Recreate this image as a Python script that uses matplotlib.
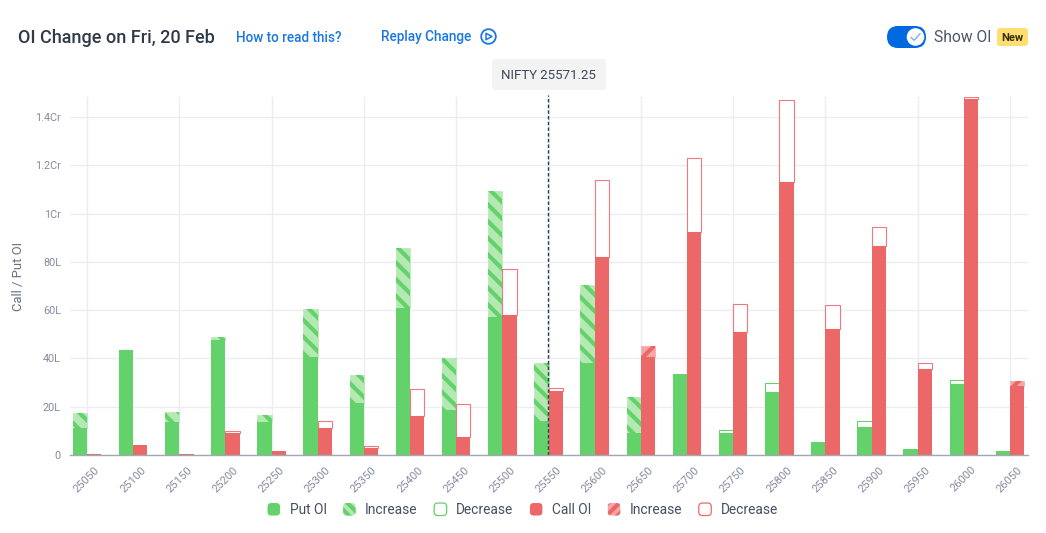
import matplotlib
matplotlib.use("Agg")
import matplotlib.pyplot as plt
from matplotlib.patches import FancyBboxPatch, Circle, Patch
from matplotlib.legend_handler import HandlerPatch
from matplotlib.ticker import FixedLocator, FixedFormatter

plt.rcParams['font.family'] = ['Roboto', 'DejaVu Sans']
plt.rcParams['hatch.linewidth'] = 3.0

strikes = [25050, 25100, 25150, 25200, 25250, 25300, 25350, 25400, 25450, 25500, 25550,
           25600, 25650, 25700, 25750, 25800, 25850, 25900, 25950, 26000, 26050]
# values in lakh: solid OI part, then the size of the increase or decrease block on top
put_oi = [11.2, 43.5, 13.8, 47.5, 13.5, 40.5, 21.5, 61, 18.5, 57, 14.2,
          38.2, 9.2, 33.5, 9, 26, 5.5, 11.5, 2.5, 29.5, 1.5]
put_increase = [6.2, 0, 4.2, 1.5, 3.2, 20, 11.5, 24.8, 21.8, 52.5, 24,
                32.3, 14.8, 0, 0, 0, 0, 0, 0, 0, 0]
put_decrease = [0, 0, 0, 0, 0, 0, 0, 0, 0, 0, 0,
                0, 0, 0, 1.5, 4, 0, 2.5, 0, 1.5, 0]
call_oi = [0.5, 4, 0.5, 9.2, 1.5, 11, 2.8, 16, 7.5, 58, 26.5,
           82, 40.7, 92.5, 51, 113, 52, 86.5, 35.5, 147.3, 28.5]
call_increase = [0, 0, 0, 0, 0, 0, 0, 0, 0, 0, 0,
                 0, 4.3, 0, 0, 0, 0, 0, 0, 0, 2]
call_decrease = [0, 0, 0, 0.8, 0, 3, 1, 11.5, 13.5, 19, 1.3,
                 32, 0, 30.5, 11.5, 34, 10, 8, 2.5, 1.0, 0]
y_ticks = [0, 20, 40, 60, 80, 100, 120, 140]
y_tick_labels = ['0', '20L', '40L', '60L', '80L', '1Cr', '1.2Cr', '1.4Cr']
spot_index = 10
spot_label = 'NIFTY 25571.25'

GREEN, GREEN_L = '#64D26A', '#B4E9B4'
RED, RED_L = '#EC6868', '#F7A5A8'
RED_EDGE = '#F0787E'
GRID = '#ECEDF2'
TICK = '#868B9E'
TEXT = '#46505F'
BLUE = '#1B78E2'

W, H = 1046, 533
fig = plt.figure(figsize=(W / 100, H / 100), dpi=100, facecolor='white')
ax = fig.add_axes([70 / W, 1 - 455 / H, (1028 - 70) / W, (455 - 97) / H])
ax.set_xlim(-17 / 46.15, 20 + 18 / 46.15)
ax.set_ylim(0, 358 / 2.414)

x = list(range(len(strikes)))
bw = 14.3 / 46.15
put_x = [i - bw / 2 for i in x]
call_x = [i + bw / 2 for i in x]


def stack(xs, base, inc, dec, solid, light, edge, hatch, z):
    ax.bar(xs, base, bw, color=solid, linewidth=0, zorder=z + 0.2)
    for px, b, v in zip(xs, base, inc):
        if v > 0:
            ax.bar(px, v, bw, bottom=b, facecolor=light, edgecolor=light, linewidth=0.5, zorder=z)
            ax.bar(px, v, bw, bottom=b, facecolor='none', edgecolor=solid, linewidth=0,
                   hatch=hatch, zorder=z + 0.1)
    for px, b, v in zip(xs, base, dec):
        if v > 0:
            ax.bar(px, v, bw, bottom=b, facecolor='white', edgecolor=edge, linewidth=0.8, zorder=z)


stack(put_x, put_oi, put_increase, put_decrease, GREEN, GREEN_L, GREEN, '\\\\', 3)
stack(call_x, call_oi, call_increase, call_decrease, RED, RED_L, RED_EDGE, '//', 4)

ax.axvline(spot_index - 0.01, color='#2B3A55', lw=1.0, ls=(0, (2.5, 1.6)), zorder=6, clip_on=False,
           ymax=1.006)

for s in ['top', 'right', 'left']:
    ax.spines[s].set_visible(False)
ax.spines['bottom'].set_color('#A3A7B3')
ax.spines['bottom'].set_linewidth(1.0)
ax.spines['bottom'].set_zorder(7)

ax.yaxis.set_major_locator(FixedLocator(y_ticks))
ax.yaxis.set_major_formatter(FixedFormatter(y_tick_labels))
ax.set_xticks(x)
ax.set_xticklabels([str(s) for s in strikes], rotation=45, ha='right', va='top',
                   rotation_mode='anchor', fontsize=8.1, color=TICK)
ax.tick_params(axis='x', length=0, pad=7)
ax.tick_params(axis='y', length=0, pad=6.5, labelsize=7.8, labelcolor=TICK)
for lab in ax.get_xticklabels():
    lab.set_transform(lab.get_transform() + matplotlib.transforms.ScaledTranslation(7.5 / 100, 0, fig.dpi_scale_trans))
ax.set_axisbelow(True)
ax.grid(axis='y', color=GRID, lw=1.0, zorder=0)
for i in x[::2]:
    ax.axvline(i, color=GRID, lw=1.0, zorder=0)
ax.set_ylabel('Call / Put OI', fontsize=9.4, color='#6B7080')
ax.yaxis.set_label_coords((25 - 70) / (1028 - 70), 0.5)


class RoundHandler(HandlerPatch):
    def create_artists(self, legend, orig, xd, yd, width, height, fontsize, trans):
        cx = -xd + width / 2
        cy = -yd + height / 2
        s = 9.0
        p = FancyBboxPatch((cx - s / 2 + 1, cy - s / 2 + 1), s - 2, s - 2,
                           boxstyle='round,pad=1,rounding_size=2.6',
                           facecolor=orig.get_facecolor(), edgecolor=orig.get_edgecolor(),
                           linewidth=orig.get_linewidth(), hatch=orig.get_hatch(), transform=trans)
        return [p]


handles = [
    Patch(facecolor=GREEN, edgecolor=GREEN, linewidth=0, label='Put OI'),
    Patch(facecolor=GREEN_L, edgecolor=GREEN, linewidth=0, hatch='\\\\\\', label='Increase'),
    Patch(facecolor='white', edgecolor=GREEN, linewidth=0.9, label='Decrease'),
    Patch(facecolor=RED, edgecolor=RED, linewidth=0, label='Call OI'),
    Patch(facecolor=RED_L, edgecolor=RED, linewidth=0, hatch='///', label='Increase'),
    Patch(facecolor='white', edgecolor=RED, linewidth=0.9, label='Decrease'),
]
leg = ax.legend(handles=handles, ncols=6, frameon=False, loc='center',
                bbox_to_anchor=(522.5 / W, 1 - 510 / H), bbox_transform=fig.transFigure,
                fontsize=9.9, labelcolor=TEXT, handlelength=1.0, handleheight=1.0,
                handletextpad=0.65, columnspacing=1.15, borderpad=0, borderaxespad=0,
                handler_map={Patch: RoundHandler()})

# page header drawn in pixel coordinates
ui = fig.add_axes([0, 0, 1, 1], facecolor='none', zorder=10)
ui.set_xlim(0, W)
ui.set_ylim(H, 0)
ui.axis('off')


def label(px, py, s, size, color, weight='normal', ha='left', **kw):
    ui.text(px, py, s, fontsize=size * 0.72, color=color, fontweight=weight, ha=ha, va='center', **kw)


label(18, 38, 'OI Change on Fri, 20 Feb', 18, '#2F3A4A', 'medium')
label(236.5, 38.2, 'How to read this?', 13.5, BLUE, 'medium')
label(381, 37.2, 'Replay Change', 13.6, BLUE, 'medium')
ui.add_patch(Circle((488.5, 36.5), 7.3, facecolor='white', edgecolor=BLUE, lw=1.3))
ui.fill([486, 486, 492], [33.3, 39.7, 36.5], facecolor='white', edgecolor=BLUE, lw=1.1, joinstyle='round')

ui.add_patch(FancyBboxPatch((898, 37), 17, 0, boxstyle='round,pad=11,rounding_size=11',
                            facecolor='#0069E0', edgecolor='none'))
ui.add_patch(Circle((915.5, 37), 8.8, facecolor='white', edgecolor='none'))
ui.plot([911, 914.3, 920], [37.5, 40.3, 33.6], color='#6FA8EC', lw=0.9)
label(934.5, 37.8, 'Show OI', 15.6, '#4A5568')
ui.add_patch(FancyBboxPatch((999, 30), 27, 14, boxstyle='round,pad=2,rounding_size=3',
                            facecolor='#FFDF72', edgecolor='none'))
label(1012.5, 37.6, 'New', 11.3, '#3A2D05', 'bold', ha='center')

ui.add_patch(FancyBboxPatch((495, 62), 108, 25, boxstyle='round,pad=3,rounding_size=4',
                            facecolor='#F3F3F4', edgecolor='none'))
label(548.5, 75.5, spot_label, 13.3, '#3D4656', ha='center')

fig.savefig('out.png', dpi=100, facecolor='white')
